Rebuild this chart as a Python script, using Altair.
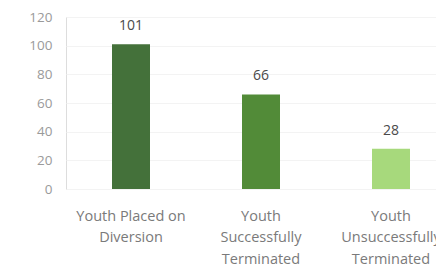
import altair as alt
import pandas as pd

categories = ["Youth Placed on|Diversion", "Youth|Successfully|Terminated", "Youth|Unsuccessfully|Terminated"]
values = [101, 66, 28]
colors = ["#44713a", "#528b38", "#a7d97c"]
ticks = [0, 20, 40, 60, 80, 100, 120]

df = pd.DataFrame({"cat": categories, "val": values, "col": colors})

font = "Open Sans"
x = alt.X("cat:N", sort=categories, title=None,
          scale=alt.Scale(paddingInner=0.7, paddingOuter=0.35, range=[0, 390]),
          axis=alt.Axis(labelExpr="split(datum.label, '|')", labelAngle=0, domain=False, ticks=False,
                        labelColor="#7a7a7a", labelFont=font, labelFontSize=14.5, labelLineHeight=21.5,
                        labelPadding=20, grid=False, labelOverlap=False, labelBound=False))
y = alt.Y("val:Q", title=None,
          scale=alt.Scale(domain=[0, 120]),
          axis=alt.Axis(values=ticks, domain=False, ticks=False, labelColor="#9a9a9a", labelFont=font,
                        labelFontSize=13.5, labelPadding=14, labelOverlap=False, labelFlush=False,
                        gridColor="#f3f3f3", gridWidth=1))

base = alt.Chart(df).encode(x=x, y=y)
bars = base.mark_bar(size=38).encode(color=alt.Color("col:N", scale=None))
text = base.mark_text(dy=-14, baseline="alphabetic", font=font, fontSize=14, color="#4a4a4a").encode(
    text="val:Q")

chart = (bars + text).properties(
    width=370, height=172,
    autosize=alt.AutoSizeParams(type="none"),
    padding={"left": 58, "top": 9, "right": 0, "bottom": 78},
).configure_view(stroke=None).configure(background="white")

chart.save("out.html", embed_options={"renderer": "svg", "actions": False})
